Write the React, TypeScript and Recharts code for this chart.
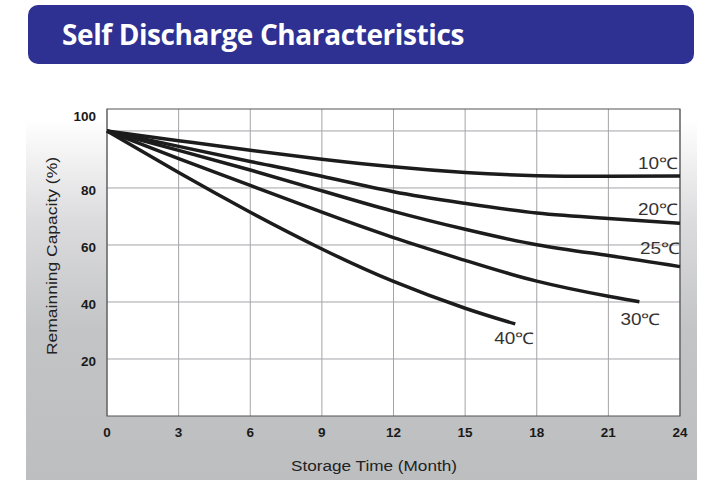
import { LineChart, Line, XAxis, YAxis, CartesianGrid, ReferenceArea } from 'recharts';

const months = [0, 3, 6, 9, 12, 15, 18, 21, 24];
const months30 = [0, 3, 6, 9, 12, 15, 18, 21, 22.3];
const months40 = [0, 3, 6, 9, 12, 15, 17.1];

const cap10 = [100, 96.6, 93.2, 90.1, 87.4, 85.4, 84.3, 84.1, 84.2];
const cap20 = [100, 94.6, 89.3, 84.1, 78.7, 74.6, 71.2, 69.3, 67.6];
const cap25 = [100, 93.2, 86.3, 79.0, 71.8, 65.5, 60.1, 56.3, 52.4];
const cap30 = [100, 90.3, 80.9, 71.5, 62.6, 54.6, 47.3, 42.0, 40.1];
const cap40 = [100, 85.4, 71.5, 58.6, 47.2, 37.8, 32.3];

const xTicks = [0, 3, 6, 9, 12, 15, 18, 21, 24];
const yTicks = [20, 40, 60, 80, 100];

const toRows = (xs: number[], ys: number[]) => xs.map((m, i) => ({ month: m, cap: ys[i] }));

const series = [
  { name: '10℃', data: toRows(months, cap10), dx: -22, dy: -12 },
  { name: '20℃', data: toRows(months, cap20), dx: -22, dy: -14 },
  { name: '25℃', data: toRows(months, cap25), dx: -20, dy: -18 },
  { name: '30℃', data: toRows(months30, cap30), dx: 1, dy: 18 },
  { name: '40℃', data: toRows(months40, cap40), dx: -1, dy: 15 },
];

const FONT = '"Liberation Sans", Arial, sans-serif';

const YTick = ({ x, y, payload }: any) => (
  <text
    x={x}
    y={payload.value === 100 ? y - 14 : y + 3}
    textAnchor="end"
    dominantBaseline="central"
    fill="#1a1a1a"
    fontSize={13.5}
    fontWeight="bold"
    fontFamily={FONT}
  >
    {payload.value}
  </text>
);

const XTick = ({ x, y, payload }: any) => (
  <text x={x} y={y + 8} textAnchor="middle" dominantBaseline="central" fill="#1a1a1a" fontSize={13.5} fontWeight="bold" fontFamily={FONT}>
    {payload.value}
  </text>
);

const YTitle = () => (
  <text
    x={51}
    y={256}
    transform="rotate(-90 51 256)"
    textAnchor="middle"
    dominantBaseline="central"
    fill="#222"
    fontSize={15.5}
    fontFamily={FONT}
    textLength={198}
    lengthAdjust="spacingAndGlyphs"
  >
    Remainning Capacity (%)
  </text>
);

const XTitle = () => (
  <text
    x={374}
    y={465}
    textAnchor="middle"
    dominantBaseline="central"
    fill="#222"
    fontSize={15.5}
    fontFamily={FONT}
    textLength={166}
    lengthAdjust="spacingAndGlyphs"
  >
    Storage Time (Month)
  </text>
);

const endLabel = (text: string, count: number, dx: number, dy: number) => (props: any) => {
  if (props.index !== count - 1) return null;
  return (
    <text
      key={text}
      x={props.x + dx}
      y={props.y + dy}
      textAnchor="middle"
      dominantBaseline="central"
      fill="#333"
      fontSize={16}
      fontFamily={FONT}
      textLength={40}
      lengthAdjust="spacingAndGlyphs"
    >
      {text}
    </text>
  );
};

const App = () => {
  return (
    <div style={{ position: 'absolute', left: 0, top: 0, width: 709, height: 480, background: '#fff', overflow: 'hidden' }}>
      <div
        style={{
          position: 'absolute',
          left: 26,
          top: 70,
          width: 671,
          height: 410,
          background: 'linear-gradient(to bottom, #ffffff 0px, #ffffff 50px, #dcdcde 150px, #c3c4c6 260px, #bdbec0 100%)',
        }}
      />
      <div
        style={{
          position: 'absolute',
          left: 28,
          top: 5,
          width: 666,
          height: 59,
          background: '#2e3192',
          borderRadius: 10,
          color: '#fff',
          fontFamily: '"Open Sans", sans-serif',
          fontWeight: 700,
          fontSize: 28,
          letterSpacing: -0.4,
          lineHeight: '58px',
          paddingLeft: 34,
          boxSizing: 'border-box',
        }}
      >
        Self Discharge Characteristics
      </div>
      <div style={{ position: 'absolute', left: 0, top: 0 }}>
        <LineChart width={709} height={480} margin={{ top: 109, right: 29, bottom: 0, left: 0 }}>
          <CartesianGrid fill="#fff" stroke="#a4a4a8" strokeWidth={1} horizontalValues={yTicks} verticalValues={xTicks} />
          <XAxis
            dataKey="month"
            type="number"
            domain={[0, 24]}
            ticks={xTicks}
            allowDuplicatedCategory={false}
            height={64}
            axisLine={false}
            tickLine={false}
            tick={<XTick />}
            label={<XTitle />}
          />
          <YAxis
            type="number"
            domain={[0, 107.7]}
            ticks={yTicks}
            width={107}
            axisLine={false}
            tickLine={false}
            tickMargin={5}
            tick={<YTick />}
            label={<YTitle />}
          />
          <ReferenceArea x1={0} x2={24} y1={0} y2={107.7} fill="none" stroke="#555" strokeWidth={1.2} ifOverflow="visible" />
          {series.map((s) => (
            <Line
              key={s.name}
              data={s.data}
              dataKey="cap"
              name={s.name}
              type="natural"
              stroke="#1c1c1c"
              strokeWidth={3.5}
              dot={false}
              activeDot={false}
              isAnimationActive={false}
              label={endLabel(s.name, s.data.length, s.dx, s.dy)}
            />
          ))}
        </LineChart>
      </div>
    </div>
  );
};

export default App;
